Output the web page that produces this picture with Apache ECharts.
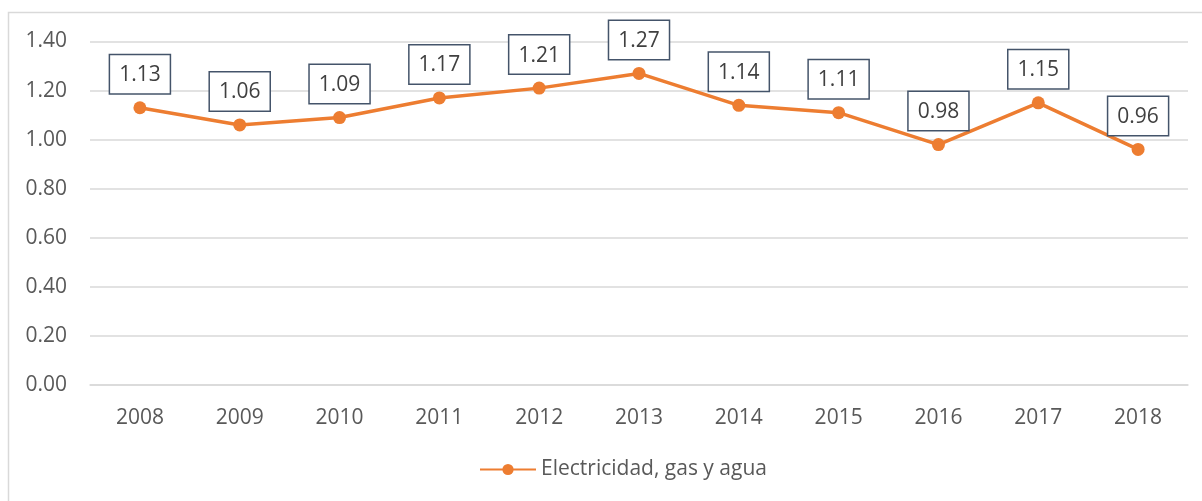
<!DOCTYPE html>
<html>
<head>
<meta charset="utf-8">
<script src="https://cdn.jsdelivr.net/npm/echarts@6/dist/echarts.min.js"></script>
<style>
  html, body { margin: 0; padding: 0; background: #fff; }
  #chart { width: 1202px; height: 501px; }
</style>
</head>
<body>
<div id="chart"></div>
<script>
// datos del gráfico
var years = ["2008", "2009", "2010", "2011", "2012", "2013", "2014", "2015", "2016", "2017", "2018"];
var valores = [1.13, 1.06, 1.09, 1.17, 1.21, 1.27, 1.14, 1.11, 0.98, 1.15, 0.96];
var serieNombre = "Electricidad, gas y agua";

var fuente = "'Open Sans', 'Noto Sans', sans-serif";
var chart = echarts.init(document.getElementById("chart"));

chart.setOption({
  animation: false,
  textStyle: { fontFamily: fuente },
  graphic: [
    {
      type: "rect",
      shape: { x: 8.5, y: 12.5, width: 1400, height: 700 },
      style: { fill: "none", stroke: "#d9d9d9", lineWidth: 1.5 },
      silent: true
    }
  ],
  grid: { left: 90, right: 14, top: 41.5, bottom: 116 },
  legend: {
    top: 454,
    left: 474,
    itemWidth: 56,
    itemHeight: 14,
    itemGap: 6,
    textStyle: { fontSize: 21, color: "#595959", fontFamily: fuente },
    data: [serieNombre]
  },
  xAxis: {
    type: "category",
    data: years,
    boundaryGap: true,
    axisLine: { show: true, lineStyle: { color: "#d9d9d9", width: 1.5 } },
    axisTick: { show: false },
    axisLabel: { color: "#595959", fontSize: 21, margin: 23, fontFamily: fuente }
  },
  yAxis: {
    type: "value",
    min: 0,
    max: 1.4,
    interval: 0.2,
    axisLine: { show: false },
    axisTick: { show: false },
    splitLine: { lineStyle: { color: "#d9d9d9", width: 1.5 } },
    axisLabel: {
      color: "#595959",
      fontSize: 21,
      margin: 23,
      fontFamily: fuente,
      formatter: function (v) { return v.toFixed(2); }
    }
  },
  series: [
    {
      name: serieNombre,
      type: "line",
      data: valores,
      symbol: "circle",
      symbolSize: 13,
      lineStyle: { color: "#ed7d31", width: 3.5 },
      itemStyle: { color: "#ed7d31" },
      label: {
        show: true,
        position: "top",
        distance: 8,
        color: "#404040",
        fontSize: 21,
        fontFamily: fuente,
        lineHeight: 24,
        backgroundColor: "#fff",
        borderColor: "#44546a",
        borderWidth: 1.5,
        padding: [8, 9, 6, 9],
        formatter: function (p) { return p.value.toFixed(2); }
      }
    }
  ]
});
</script>
</body>
</html>
